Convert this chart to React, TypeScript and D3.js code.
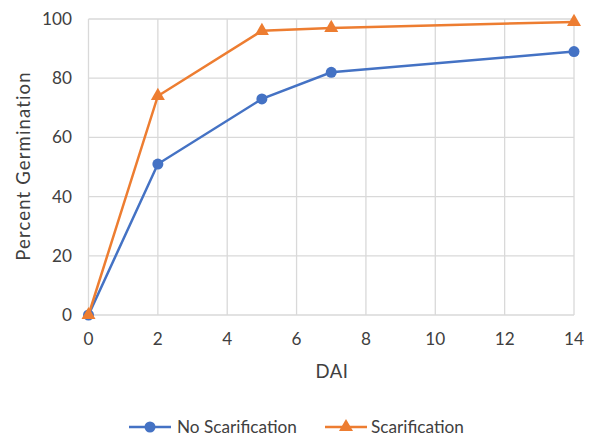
import React from "react";
import * as d3 from "d3";

const days = [0, 2, 5, 7, 14];
const noScar = [0, 51, 73, 82, 89];
const scar = [0, 74, 96, 97, 99];
const xTicks = [0, 2, 4, 6, 8, 10, 12, 14];
const yTicks = [0, 20, 40, 60, 80, 100];

const W = 593, H = 436;
const L = 88.5, R = 574, T = 19, B = 315;
const FONT = "Lato, 'Open Sans', sans-serif";
const FS = 17.2;
const FT = 18.5;
const BLUE = "#4472C4";
const ORANGE = "#ED7D31";

export default function App() {
  const x = d3.scaleLinear().domain([0, 14]).range([L, R]);
  const y = d3.scaleLinear().domain([0, 100]).range([B, T]);
  const line = d3.line<number>().x((_, i) => x(days[i])).y((d) => y(d));
  const tri = d3.symbol().type(d3.symbolTriangle).size(85)();

  return (
    <svg width={W} height={H} style={{ position: "absolute", left: 0, top: 0 }} fontFamily={FONT}>
      <rect width={W} height={H} fill="#fff" />
      {xTicks.map((t) => (
        <line key={"gx" + t} x1={x(t)} x2={x(t)} y1={T} y2={B} stroke="#d9d9d9" strokeWidth={1.3} />
      ))}
      {yTicks.map((t) => (
        <line key={"gy" + t} x1={L} x2={R} y1={y(t)} y2={y(t)} stroke="#d9d9d9" strokeWidth={1.3} />
      ))}
      {yTicks.map((t) => (
        <text key={"ty" + t} x={72} y={y(t)} dy="0.35em" textAnchor="end" fontSize={FS} fill="#404040">{t}</text>
      ))}
      {xTicks.map((t) => (
        <text key={"tx" + t} x={x(t)} y={345} textAnchor="middle" fontSize={FS} fill="#404040">{t}</text>
      ))}
      <text x={332} y={378} textAnchor="middle" fontSize={FT} letterSpacing={0.5} fill="#404040">DAI</text>
      <text transform={`translate(30,166) rotate(-90)`} textAnchor="middle" fontSize={FT} letterSpacing={1.15} fill="#404040">Percent Germination</text>

      <path d={line(noScar) || ""} fill="none" stroke={BLUE} strokeWidth={2.5} />
      {noScar.map((v, i) => (
        <circle key={"c" + i} cx={x(days[i])} cy={y(v)} r={5.5} fill={BLUE} />
      ))}
      <path d={line(scar) || ""} fill="none" stroke={ORANGE} strokeWidth={2.5} />
      {scar.map((v, i) => (
        <path key={"t" + i} d={tri || ""} transform={`translate(${x(days[i])},${y(v)})`} fill={ORANGE} />
      ))}

      <g transform="translate(0,427)">
        <line x1={129} x2={171} y1={0} y2={0} stroke={BLUE} strokeWidth={2.5} />
        <circle cx={150} cy={0} r={5.5} fill={BLUE} />
        <text x={177} y={0} dy="0.35em" fontSize={FS} fill="#404040">No Scarification</text>
        <line x1={325} x2={367} y1={0} y2={0} stroke={ORANGE} strokeWidth={2.5} />
        <path d={tri || ""} transform="translate(346,0)" fill={ORANGE} />
        <text x={371} y={0} dy="0.35em" fontSize={FS} fill="#404040">Scarification</text>
      </g>
    </svg>
  );
}
